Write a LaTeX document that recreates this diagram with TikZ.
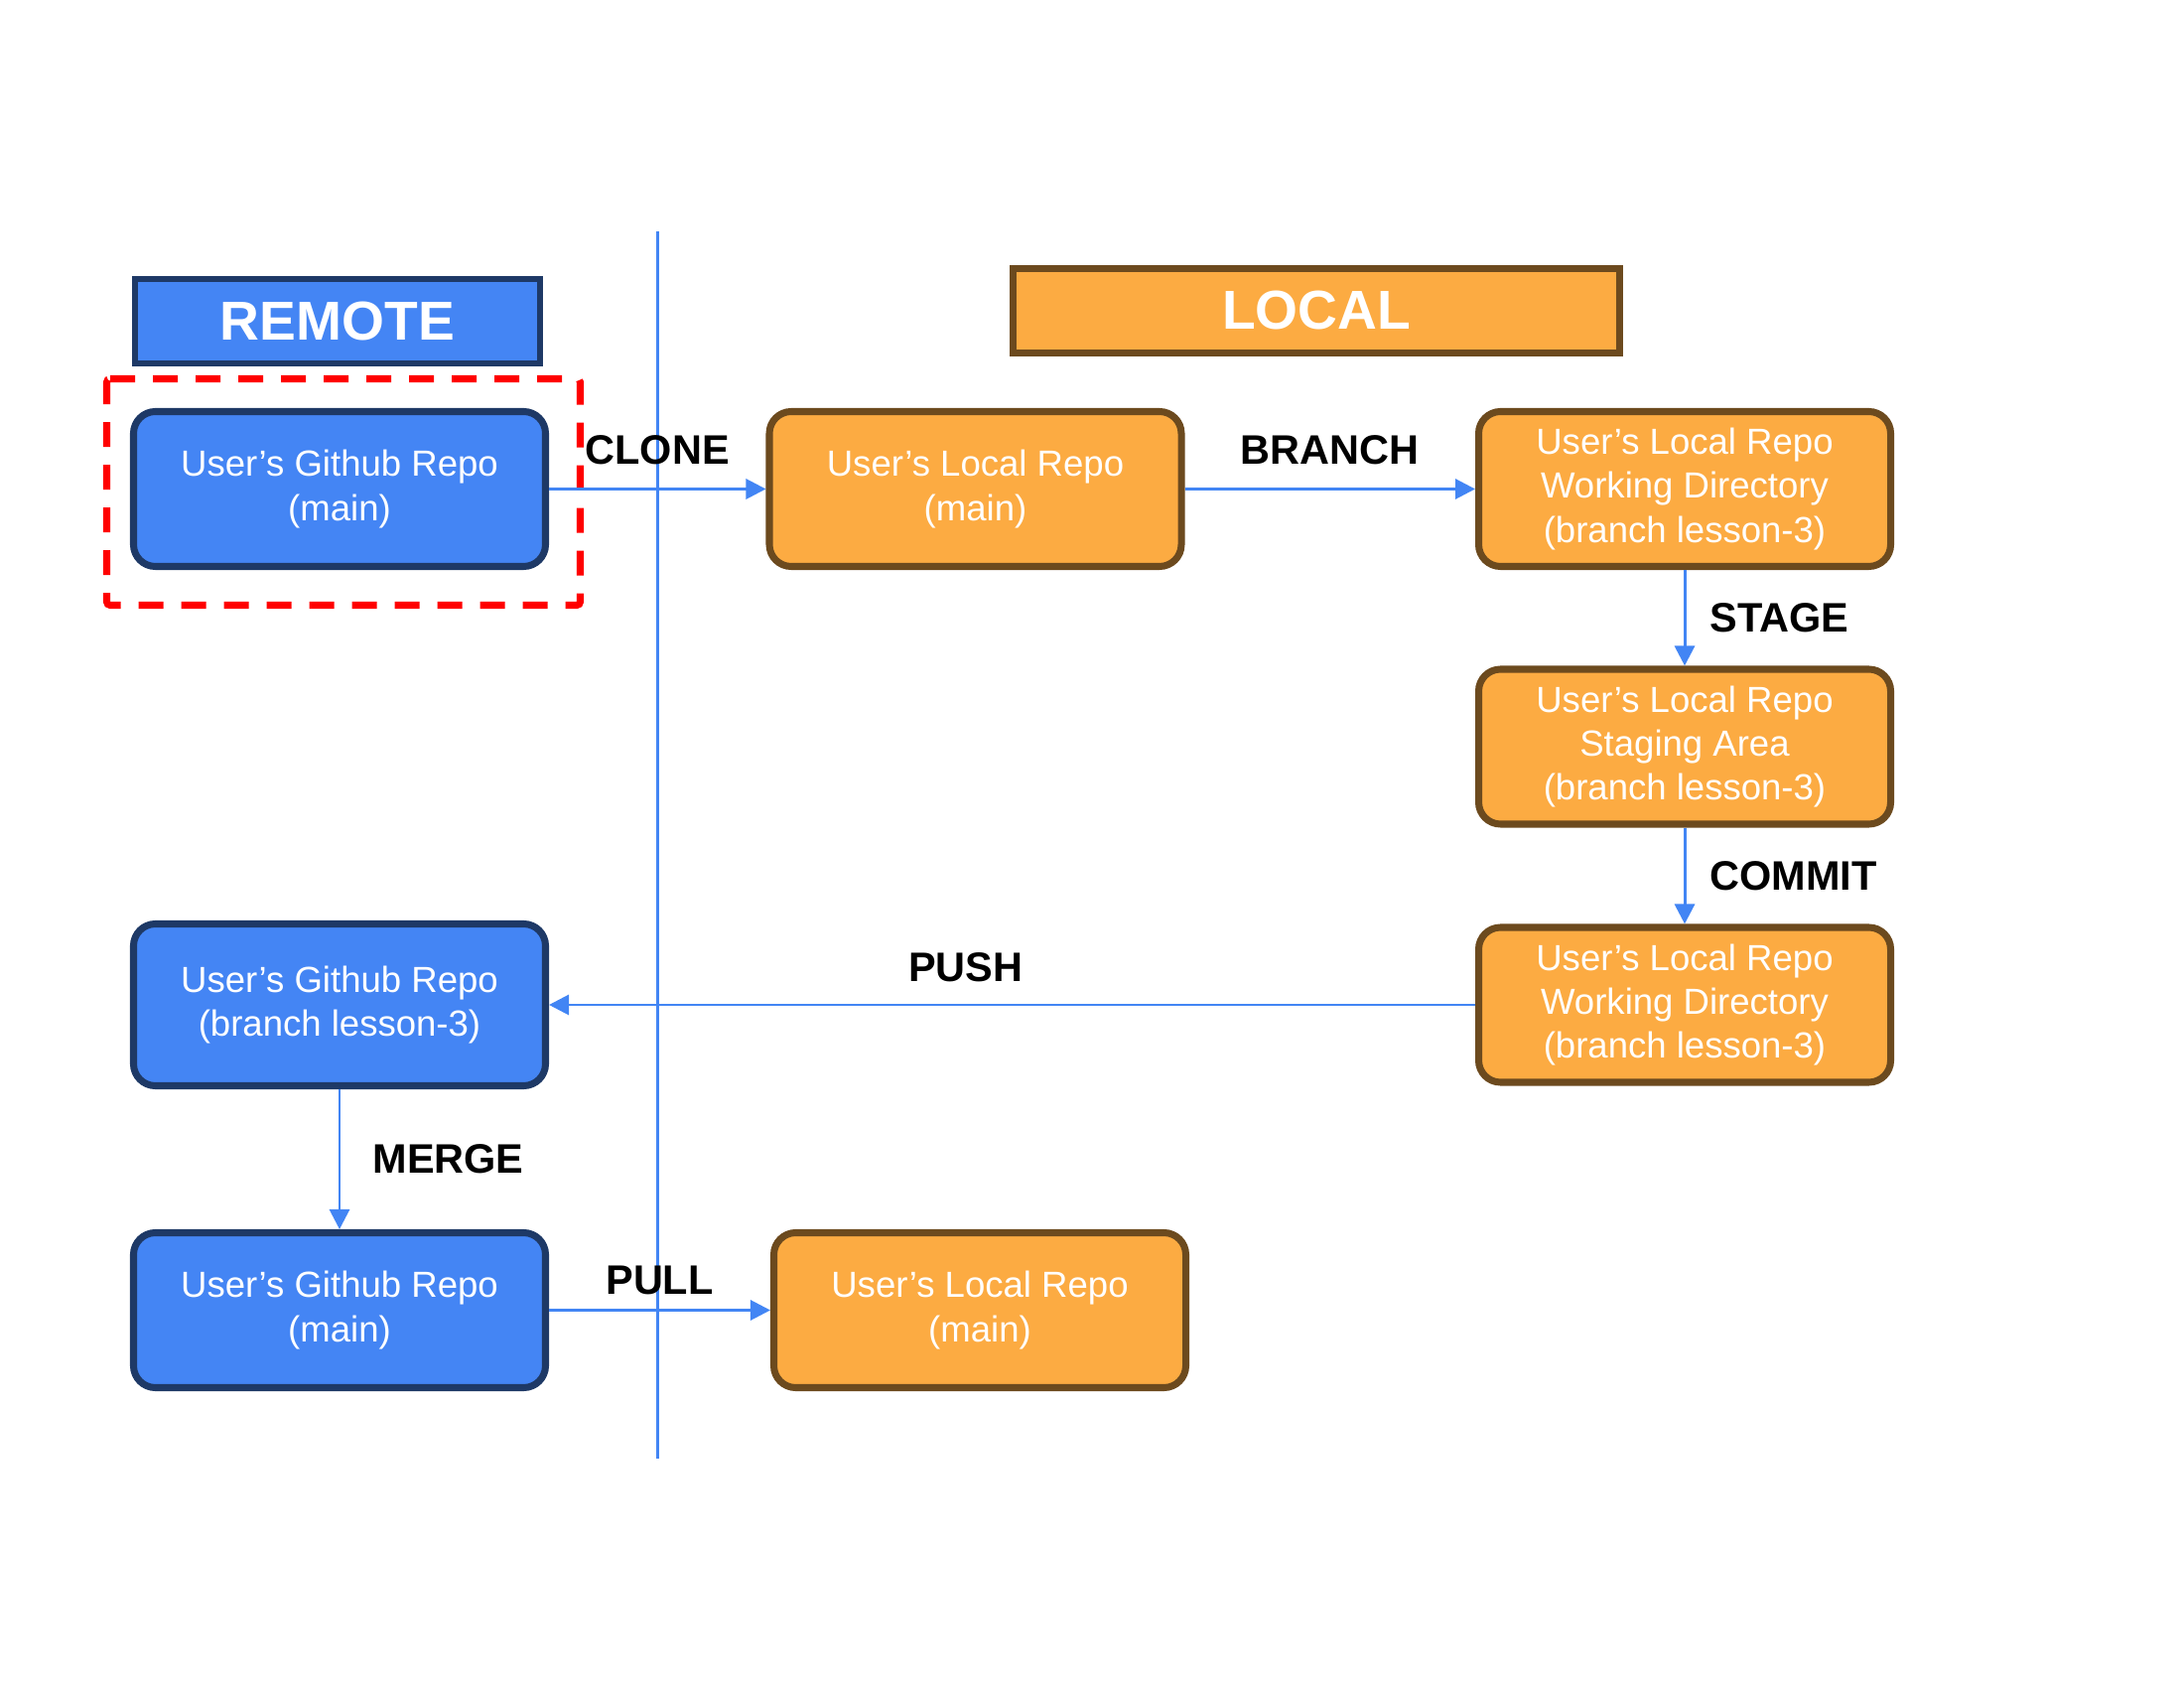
\documentclass[tikz,border=0pt]{standalone}
\usepackage{fontspec}
\setmainfont{Liberation Sans}
\usepackage{tikz}
\usetikzlibrary{arrows.meta}
\definecolor{remoteblue}{RGB}{68,133,244}
\definecolor{remoteedge}{RGB}{30,57,102}
\definecolor{localorange}{RGB}{252,171,66}
\definecolor{localedge}{RGB}{108,74,30}
\definecolor{flowblue}{RGB}{66,133,244}

\begin{document}
\begin{tikzpicture}[
  remote/.style={rectangle,rounded corners=0.22cm,fill=remoteblue,draw=remoteedge,line width=2pt,
    minimum width=4.15cm,minimum height=1.56cm,text=white,align=center,
    font=\fontsize{10.4pt}{12.6pt}\selectfont},
  local/.style={remote,fill=localorange,draw=localedge},
  header/.style={rectangle,line width=1.85pt,text=white,font=\bfseries\fontsize{15.7pt}{18pt}\selectfont,minimum height=0.85cm},
  verb/.style={font=\bfseries\fontsize{11.8pt}{14pt}\selectfont,text=black,inner sep=0pt},
  flow/.style={flowblue,line width=0.85pt,-{Triangle[length=0.2cm,width=0.2cm]}}]
  \useasboundingbox (0,0) rectangle (22,17);
  % headers
  \node[header,fill=remoteblue,draw=remoteedge,minimum width=4.08cm] (remote) at (3.40,13.765) {REMOTE};
  \node[header,fill=localorange,draw=localedge,minimum width=6.11cm] (local) at (13.26,13.87) {LOCAL};
  % divider
  \coordinate (divtop) at (6.625,14.67);
  \coordinate (divbot) at (6.625,2.31);
  \draw[flowblue,line width=0.85pt] (divtop) -- (divbot);
  % repos
  \node[remote] (gh1) at (3.42,12.075) {User’s Github Repo\\(main)};
  \node[local] (lr1) at (9.825,12.075) {User’s Local Repo\\(main)};
  \node[local] (wd1) at (16.97,12.075) {User’s Local Repo\\Working Directory\\(branch lesson-3)};
  \node[local] (sa) at (16.97,9.48) {User’s Local Repo\\Staging Area\\(branch lesson-3)};
  \node[local] (wd2) at (16.97,6.88) {User’s Local Repo\\Working Directory\\(branch lesson-3)};
  \node[remote,minimum height=1.63cm] (gh2) at (3.42,6.88) {User’s Github Repo\\(branch lesson-3)};
  \node[remote] (gh3) at (3.42,3.805) {User’s Github Repo\\(main)};
  \node[local] (lr3) at (9.87,3.805) {User’s Local Repo\\(main)};
  % highlight round the first repo
  \draw[red,line width=2pt,dash pattern=on 0.25cm off 0.18cm,rounded corners=1pt]
    (1.075,13.185) -- (5.845,13.185) -- (5.845,10.905) -- (1.075,10.905) -- cycle;
  % steps
  \path[flow]
    (gh1) edge node[verb,above=0.23cm] {CLONE} (lr1)
    (lr1) edge node[verb,above=0.23cm] {BRANCH} (wd1)
    (wd1) edge node[verb,right=0.24cm] {STAGE} (sa)
    (sa) edge node[verb,right=0.24cm] {COMMIT} (wd2)
    (wd2) edge node[verb,above=0.22cm,pos=0.55] {PUSH} (gh2)
    (gh2) edge node[verb,right=0.32cm] {MERGE} (gh3)
    (gh3) edge node[verb,above=0.14cm] {PULL} (lr3);
\end{tikzpicture}
\end{document}
